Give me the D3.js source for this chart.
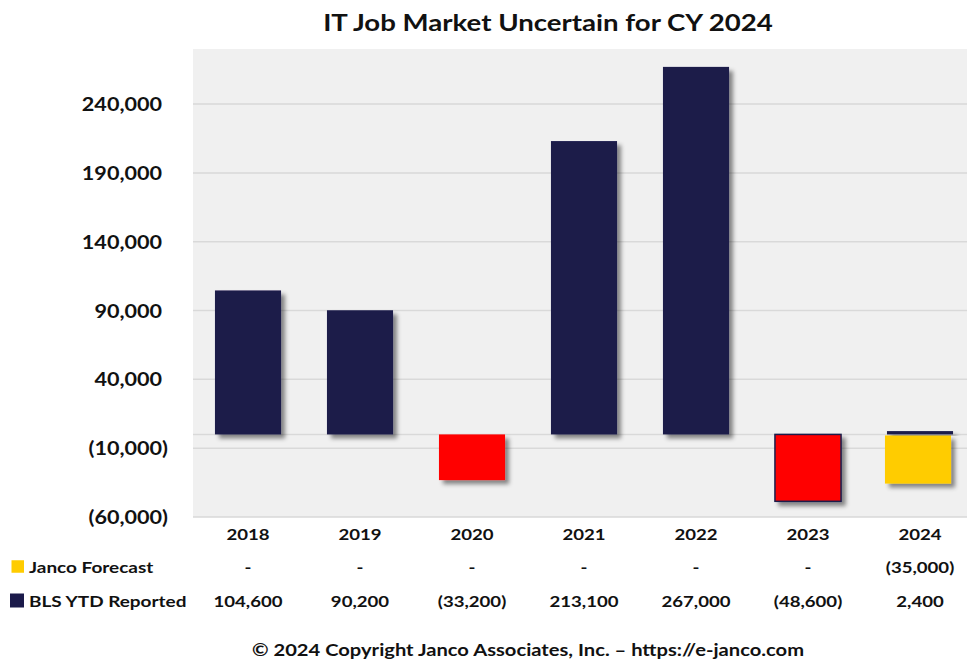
<!DOCTYPE html>
<html>
<head>
<meta charset="utf-8">
<script src="https://cdn.jsdelivr.net/npm/d3@7"></script>
<style>
  html, body { margin: 0; padding: 0; background: #fff; }
  svg { display: block; }
  text { font-family: "Lato", "Open Sans", sans-serif; font-weight: 700; fill: #111; }
</style>
</head>
<body>
<svg id="chart" width="967" height="660"></svg>
<script>
// ---- data ----
const years = ["2018", "2019", "2020", "2021", "2022", "2023", "2024"];
const blsReported = [104600, 90200, -33200, 213100, 267000, -48600, 2400];
const jancoForecast = [null, null, null, null, null, null, -35000];
const seriesNames = ["Janco Forecast", "BLS YTD Reported"];
const yTickValues = [-60000, -10000, 40000, 90000, 140000, 190000, 240000];
const titleText = "IT Job Market Uncertain for CY 2024";
const footerText = "\u00A9 2024 Copyright Janco Associates, Inc. \u2013 https://e-janco.com";

// ---- styling ----
const NAVY = "#1b1a4a", RED = "#ff0000", GOLD = "#ffcc00";
const STRETCH = 1.2;               // horizontal stretch applied to all lettering
const outlinedYears = new Set(["2023"]);

const svg = d3.select("#chart");
const plot = { left: 193, right: 976, top: 49, bottom: 517 };

const x = d3.scaleBand().domain(years)
  .range([192, 976]).paddingInner(0.41).paddingOuter(0.205);
const y = d3.scaleLinear().domain([-60000, 280000]).range([plot.bottom, plot.top]);

const num = d3.format(",");
const acct = v => v == null ? "-" : (v < 0 ? `(${num(-v)})` : num(v));

// drop shadow for the columns
const defs = svg.append("defs");
defs.append("filter").attr("id", "shadow")
  .attr("x", "-20%").attr("y", "-20%").attr("width", "150%").attr("height", "150%")
  .append("feDropShadow")
  .attr("dx", 4).attr("dy", 4).attr("stdDeviation", 2.2)
  .attr("flood-color", "#000").attr("flood-opacity", 0.45);

// stretched text helper
function label(parent, tx, ty, str, size, anchor) {
  const g = parent.append("g").attr("transform", `translate(${tx},${ty}) scale(${STRETCH},1)`);
  return g.append("text").attr("text-anchor", anchor || "middle")
    .attr("font-size", size).text(str);
}

// title
label(svg, 548, 31, titleText, 23);

// plot background
svg.append("rect")
  .attr("x", plot.left).attr("y", plot.top)
  .attr("width", plot.right - plot.left).attr("height", plot.bottom - plot.top)
  .attr("fill", "#f0f0f0");

// gridlines (including zero line)
svg.append("g").selectAll("line")
  .data(yTickValues.concat([0]))
  .join("line")
  .attr("x1", plot.left).attr("x2", plot.right)
  .attr("y1", d => y(d)).attr("y2", d => y(d))
  .attr("stroke", "#d9d9d9").attr("stroke-width", 1.5);

// y axis labels (accounting style: digits aligned, negatives in parentheses)
const yAxisG = svg.append("g").attr("transform", "translate(168,0)")
  .call(d3.axisLeft(y).tickValues(yTickValues).tickSize(0).tickFormat(acct));
yAxisG.select(".domain").remove();
const parenW = (() => {
  const t = svg.append("text").attr("font-size", 18).text(")");
  const w = t.node().getComputedTextLength();
  t.remove();
  return w;
})();
yAxisG.selectAll(".tick text")
  .attr("font-family", null).attr("font-size", 18).attr("fill", "#111")
  .attr("text-anchor", "end").attr("dy", "0.36em")
  .attr("transform", `scale(${STRETCH},1)`)
  .attr("x", d => d < 0 ? 0 : -parenW);

// forecast columns
svg.append("g").selectAll("rect")
  .data(years.map((yr, i) => ({ yr, v: jancoForecast[i] })).filter(d => d.v != null))
  .join("rect")
  .attr("x", d => x(d.yr) - 2)
  .attr("width", x.bandwidth())
  .attr("y", d => y(Math.max(0, d.v)) + 1)
  .attr("height", d => Math.abs(y(d.v) - y(0)))
  .attr("fill", GOLD)
  .attr("filter", "url(#shadow)");

// reported columns
svg.append("g").selectAll("rect")
  .data(years.map((yr, i) => ({ yr, v: blsReported[i] })))
  .join("rect")
  .attr("x", d => x(d.yr))
  .attr("width", x.bandwidth())
  .attr("y", d => y(Math.max(0, d.v)))
  .attr("height", d => Math.abs(y(d.v) - y(0)))
  .attr("fill", d => d.v < 0 ? RED : NAVY)
  .attr("stroke", d => outlinedYears.has(d.yr) ? NAVY : "none")
  .attr("stroke-width", 1.5)
  .attr("filter", "url(#shadow)");

// category axis
const xAxisG = svg.append("g").attr("transform", `translate(0,${plot.bottom})`)
  .call(d3.axisBottom(x).tickSize(0));
xAxisG.select(".domain").remove();
xAxisG.selectAll(".tick text")
  .attr("font-family", null).attr("font-size", 15.5).attr("fill", "#111")
  .attr("y", 0).attr("dy", 0)
  .attr("transform", `translate(0,23) scale(${STRETCH},1)`);

// data table rows with legend keys
const rows = [
  { name: seriesNames[0], values: jancoForecast, color: GOLD, cy: 567, key: 12.5 },
  { name: seriesNames[1], values: blsReported, color: NAVY, cy: 601, key: 14 }
];
rows.forEach(r => {
  svg.append("rect")
    .attr("x", 24 - r.key).attr("y", r.cy - r.key / 2 - 0.5)
    .attr("width", r.key).attr("height", r.key)
    .attr("fill", r.color);
  label(svg, 29, r.cy + 5.5, r.name, 15.8, "start");
  r.values.forEach((v, i) => {
    label(svg, x(years[i]) + x.bandwidth() / 2, r.cy + 5.5, acct(v), 15.5);
  });
});

// footer
label(svg, 528, 656, footerText, 16.8);
</script>
</body>
</html>
